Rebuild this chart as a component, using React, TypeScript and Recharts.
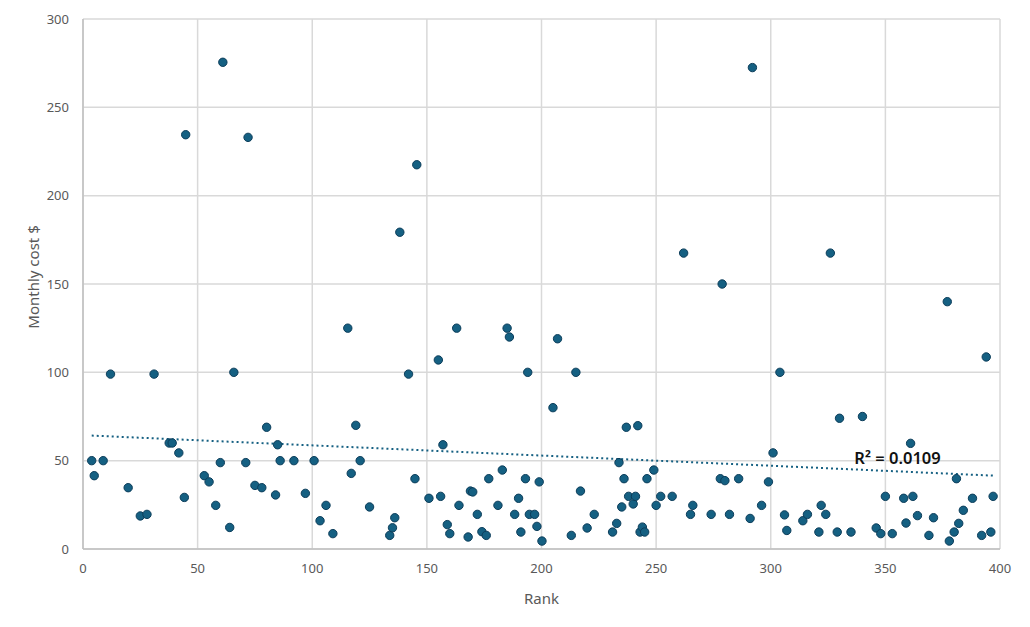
import {
  CartesianGrid,
  ReferenceDot,
  ReferenceLine,
  Scatter,
  ScatterChart,
  XAxis,
  YAxis,
} from "recharts";

// rank of each item and its monthly cost
const rank = [
  3.8, 4.9, 8.8, 12, 19.7, 25, 27.9, 31, 37.6, 38.9, 41.8, 44.2, 44.8, 52.9, 55,
  57.9, 59.9, 61, 64, 65.8, 71, 72, 75, 78, 80.1, 84, 84.9, 86, 92, 97, 100.8,
  103.4, 106, 109, 115.5, 117, 119, 120.9, 125, 133.8, 135, 136, 138.2, 142,
  144.8, 145.6, 150.9, 155, 156, 157, 158.9, 160, 163, 164, 168, 169, 170, 172,
  174, 175.9, 177, 181, 182.9, 185, 186, 188.3, 190, 191, 193, 194, 194.7, 197,
  198, 199, 200.2, 205, 207, 213, 215, 217, 219.9, 223, 231, 232.8, 233.8, 235,
  236, 237, 238, 240, 241, 242, 243, 244, 245, 246, 249, 250, 252, 257, 262,
  265, 266, 274, 278, 278.8, 280, 282, 286, 291, 292, 296, 299, 301, 304, 306,
  307, 314, 316, 321, 322, 324, 326, 329, 330, 335, 340, 346, 348, 350, 353,
  358, 359, 361, 362, 364, 369, 371, 377, 377.9, 380, 381, 382, 384, 388, 392,
  394, 396, 397,
];

const cost = [
  50, 41.5, 50, 99, 34.7, 18.7, 19.6, 99, 60, 60, 54.4, 29.2, 234.5, 41.5, 38,
  24.7, 48.9, 275.5, 12.2, 100, 48.9, 233, 36, 34.7, 68.9, 30.6, 59, 50, 50,
  31.5, 50, 16, 24.7, 8.7, 125, 42.8, 70, 50, 23.8, 7.7, 12, 17.7, 179.3, 99,
  39.8, 217.5, 28.7, 107, 29.8, 59, 13.8, 8.7, 125, 24.7, 6.8, 32.8, 32.3, 19.6,
  9.8, 7.7, 39.8, 24.7, 44.7, 125, 120, 19.6, 28.7, 9.6, 39.8, 100, 19.6, 19.6,
  12.8, 38, 4.5, 80, 119, 7.7, 100, 32.8, 11.9, 19.6, 9.6, 14.5, 48.9, 23.8,
  39.8, 68.9, 29.8, 25.5, 29.8, 69.8, 9.6, 12.4, 9.6, 39.8, 44.7, 24.7, 29.8,
  29.8, 167.5, 19.6, 24.7, 19.6, 39.8, 150, 38.7, 19.6, 39.8, 17.3, 272.5, 24.7,
  38, 54.4, 100, 19.3, 10.5, 16, 19.6, 9.6, 24.7, 19.6, 167.5, 9.6, 74, 9.6, 75,
  11.9, 8.7, 29.8, 8.7, 28.7, 14.7, 59.8, 29.8, 18.9, 7.7, 17.7, 140, 4.5, 9.6,
  39.8, 14.5, 21.9, 28.7, 7.7, 108.7, 9.6, 29.8,
];

// linear trendline end points
const trendX = [3.8, 397.6];
const trendY = [64.2, 41.5];
const rSquared = "R² = 0.0109";

const xTicks = [0, 50, 100, 150, 200, 250, 300, 350, 400];
const yTicks = [0, 50, 100, 150, 200, 250, 300];

const points = rank.map((r, i) => ({ rank: r, cost: cost[i] }));

const DOT = "#156082";
const GRID = "#d9d9d9";
const TEXT = "#595959";
const FONT = "'Noto Sans', 'Open Sans', sans-serif";

function Dot(props: any) {
  const { cx, cy } = props;
  if (cx == null || cy == null) return null;
  return <circle cx={cx} cy={cy} r={4.2} fill={DOT} stroke="#0c3d5a" strokeWidth={1} />;
}

export default function App() {
  return (
    <div style={{ position: "absolute", top: 0, left: 0, width: 1030, height: 627, background: "#fff" }}>
      <ScatterChart
        width={1030}
        height={627}
        margin={{ top: 19, right: 30, left: 0, bottom: 0 }}
        style={{ fontFamily: FONT }}
      >
        <CartesianGrid stroke={GRID} strokeWidth={1.5} />
        <XAxis
          type="number"
          dataKey="rank"
          domain={[0, 400]}
          ticks={xTicks}
          height={78}
          tickLine={false}
          tickSize={0}
          tickMargin={15}
          axisLine={{ stroke: "#bfbfbf", strokeWidth: 1.5 }}
          tick={{ fontSize: 13, fill: TEXT }}
          label={{ value: "Rank", position: "insideBottom", offset: 23, fontSize: 15, fill: TEXT }}
        />
        <YAxis
          type="number"
          dataKey="cost"
          domain={[0, 300]}
          ticks={yTicks}
          width={83}
          tickLine={false}
          tickSize={0}
          tickMargin={14}
          axisLine={{ stroke: "#bfbfbf", strokeWidth: 1.5 }}
          tick={{ fontSize: 13, fill: TEXT }}
          label={{
            content: () => {
              const x = 33;
              const y = 277;
              return (
                <text
                  x={x}
                  y={y}
                  transform={`rotate(-90 ${x} ${y})`}
                  textAnchor="middle"
                  dominantBaseline="central"
                  fontSize={15}
                  fill={TEXT}
                >
                  Monthly cost $
                </text>
              );
            },
          }}
        />
        <ReferenceLine
          segment={[
            { x: trendX[0], y: trendY[0] },
            { x: trendX[1], y: trendY[1] },
          ]}
          stroke={DOT}
          strokeWidth={2}
          strokeDasharray="2 3"
        />
        <Scatter data={points} shape={<Dot />} isAnimationActive={false} />
        <ReferenceDot
          x={355.3}
          y={51.5}
          r={0}
          fill="none"
          stroke="none"
          label={{ value: rSquared, position: "center", fontSize: 16.5, fill: "#111", fontWeight: 600 }}
        />
      </ScatterChart>
    </div>
  );
}
